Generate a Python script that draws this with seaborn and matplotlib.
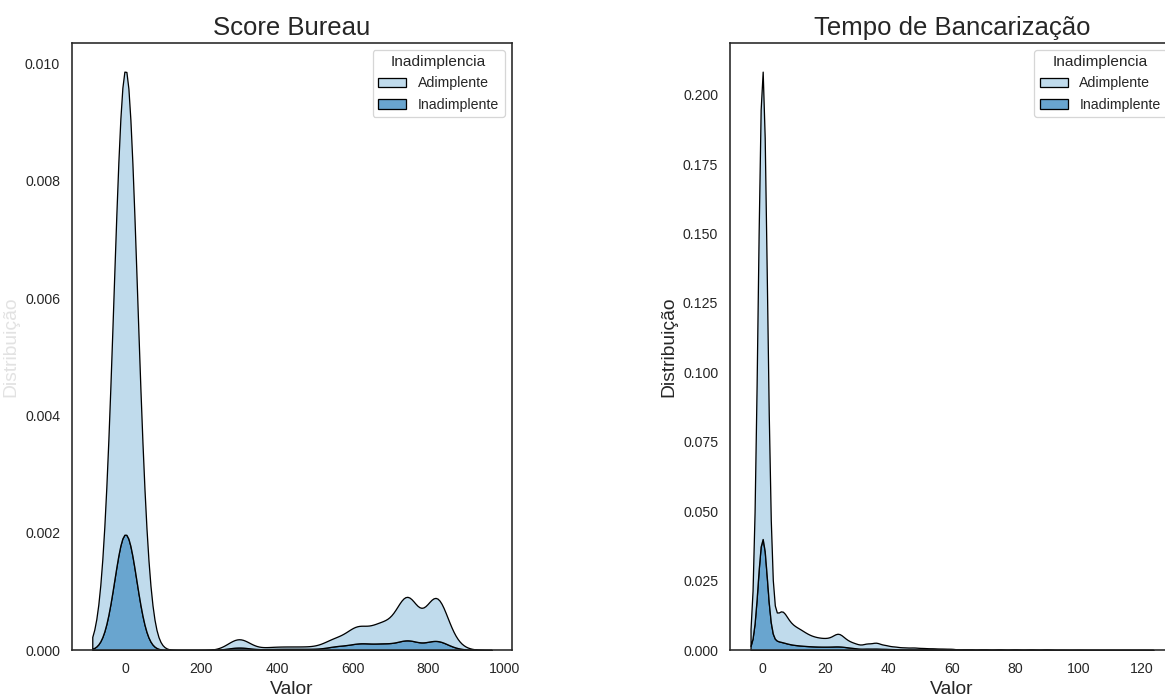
import numpy as np
import pandas as pd
import matplotlib
matplotlib.use("Agg")
import matplotlib.pyplot as plt
import seaborn as sns

# ------------------------------------------------------------------
# Data (values and relative counts per 10 000)
# ------------------------------------------------------------------
groups = ["Adimplente", "Inadimplente"]

# Score Bureau
score_adim_vals = [-25, 0, 25, 300, 380, 420, 460, 500, 550, 610, 670, 705, 745, 820, 860, 905]
score_adim_w = [1000, 4342, 1000, 102, 16, 16, 16, 16, 77, 180, 180, 80, 481, 493, 50, 2]
score_inad_vals = [0, 300, 380, 420, 460, 500, 560, 620, 680, 745, 820, 865]
score_inad_w = [1425, 30, 8, 8, 8, 8, 40, 70, 65, 110, 105, 10]

# Tempo de Bancarização
tempo_adim_vals = [0, 2, 4, 6, 8, 10, 12, 14, 16, 18, 20, 22, 24, 26, 28, 30,
                   33, 36, 39, 42, 45, 48, 51, 54, 57, 60,
                   65, 70, 75, 80, 85, 90, 95, 100, 105, 110, 115, 120]
tempo_adim_w = [6041, 150, 120, 280, 170, 136, 120, 90, 72, 64, 60, 64, 115, 60, 40, 36,
                54, 66, 39, 27, 21, 21, 15, 12, 9, 8,
                8, 5, 5, 4, 3, 3, 2, 2, 1, 1, 1, 1]
tempo_inad_vals = [0, 2, 4, 6, 8, 10, 12, 14, 16, 18, 20, 22, 24, 26, 28, 30,
                   33, 36, 39, 42, 45, 48, 51, 54, 57, 60,
                   65, 70, 75, 80, 85, 90]
tempo_inad_w = [1423, 60, 66, 60, 44, 36, 32, 28, 26, 24, 24, 24, 28, 22, 16, 12,
                15, 15, 12, 9, 6, 6, 6, 6, 6, 6,
                3, 3, 2, 2, 2, 2]

titles = ["Score Bureau", "Tempo de Bancarização"]


def frame(adim_vals, adim_w, inad_vals, inad_w):
    return pd.DataFrame({
        "Valor": list(adim_vals) + list(inad_vals),
        "Peso": list(adim_w) + list(inad_w),
        "Inadimplencia": [groups[0]] * len(adim_vals) + [groups[1]] * len(inad_vals),
    })


def fixed_bw(h):
    """Kernel bandwidth given in data units."""
    def factor(kde):
        sd = float(np.sqrt(np.cov(kde.dataset, aweights=kde.weights)))
        return h / sd
    return factor


sns.set_theme(style="white", context="notebook")
plt.rcParams["font.family"] = ["Liberation Sans", "DejaVu Sans"]

DPI = 92.5
W, H = 1165, 698
fig = plt.figure(figsize=(W / DPI, H / DPI), dpi=DPI)
ax1 = fig.add_axes([72.3 / W, 48 / H, 439.4 / W, 607.3 / H])
ax2 = fig.add_axes([730.4 / W, 48 / H, 443.0 / W, 607.3 / H])

panels = [
    (ax1, frame(score_adim_vals, score_adim_w, score_inad_vals, score_inad_w), 29.0, 2.15, titles[0]),
    (ax2, frame(tempo_adim_vals, tempo_adim_w, tempo_inad_vals, tempo_inad_w), 1.45, 2.57, titles[1]),
]

for ax, df, bw, cut, title in panels:
    sns.kdeplot(data=df, x="Valor", hue="Inadimplencia", weights="Peso",
                hue_order=groups, palette="Blues", multiple="stack",
                bw_method=fixed_bw(bw), cut=cut, gridsize=200,
                edgecolor="black", linewidth=1, ax=ax)
    ax.set_title(title, fontsize=20)
    ax.set_xlabel("Valor", fontsize=15)
    ax.set_ylabel("Distribuição", fontsize=15)
    sns.move_legend(ax, "upper right")

ax1.yaxis.label.set_color("#e2e2e2")

fig.savefig("out.png", dpi=DPI)
